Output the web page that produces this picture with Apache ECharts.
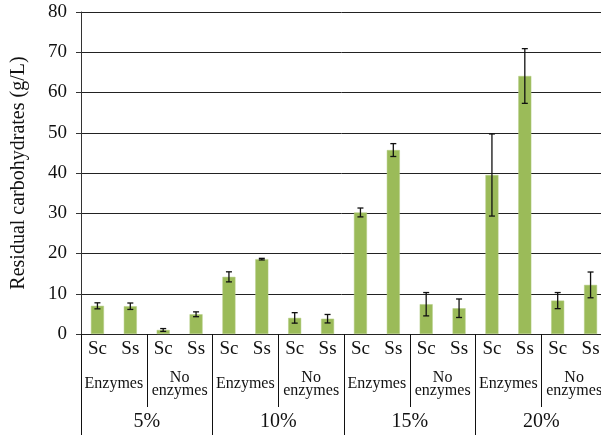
<!DOCTYPE html>
<html>
<head>
<meta charset="utf-8">
<script src="https://cdn.jsdelivr.net/npm/echarts@6/dist/echarts.min.js"></script>
<style>html,body{margin:0;padding:0;background:#fff}#c{width:601px;height:435px}</style>
</head>
<body>
<div id="c"></div>
<script>
var strainLabels = ['Sc','Ss','Sc','Ss','Sc','Ss','Sc','Ss','Sc','Ss','Sc','Ss','Sc','Ss','Sc','Ss'];
var treatmentLabels = ['Enzymes','No\nenzymes','Enzymes','No\nenzymes','Enzymes','No\nenzymes','Enzymes','No\nenzymes'];
var concentrationLabels = ['5%','10%','15%','20%'];
var meanValues = [7.0, 6.9, 1.0, 4.9, 14.2, 18.6, 4.0, 3.8, 30.2, 45.7, 7.4, 6.4, 39.5, 64.1, 8.3, 12.2];
var errorValues = [0.75, 0.8, 0.35, 0.6, 1.25, 0.2, 1.3, 1.05, 1.1, 1.6, 2.9, 2.3, 10.2, 6.8, 2.0, 3.2];
var yTicks = [0, 10, 20, 30, 40, 50, 60, 70, 80];

var serif = '"Liberation Serif","DejaVu Serif",serif';
var errorData = meanValues.map(function (m, i) { return [i, m - errorValues[i], m + errorValues[i]]; });

var chart = echarts.init(document.getElementById('c'), null, {renderer: 'canvas'});
chart.setOption({
  animation: false,
  backgroundColor: '#fff',
  grid: {left: 81, top: 12, bottom: 101, right: -6, containLabel: false, outerBoundsMode: 'none'},
  xAxis: [
    {
      type: 'category', data: strainLabels, position: 'bottom',
      axisLine: {show: true, lineStyle: {color: '#222', width: 1}},
      axisTick: {show: false},
      axisLabel: {interval: 0, margin: 15, verticalAlign: 'middle', fontFamily: serif, fontSize: 19, color: '#111'},
      splitLine: {show: false}
    },
    {
      type: 'category', data: treatmentLabels, position: 'bottom', gridIndex: 0,
      axisLine: {show: false},
      axisTick: {show: true, length: 73, interval: 0, lineStyle: {color: '#111', width: 1}},
      axisLabel: {interval: 0, margin: 50, verticalAlign: 'middle', fontFamily: serif, fontSize: 16, lineHeight: 13, color: '#111'},
      splitLine: {show: false}
    },
    {
      type: 'category', data: concentrationLabels, position: 'bottom', gridIndex: 0,
      axisLine: {show: false},
      axisTick: {show: true, length: 101, interval: 0, lineStyle: {color: '#111', width: 1}},
      axisLabel: {interval: 0, margin: 88, verticalAlign: 'middle', fontFamily: serif, fontSize: 20, color: '#111'},
      splitLine: {show: false}
    }
  ],
  yAxis: {
    type: 'value', min: yTicks[0], max: yTicks[yTicks.length - 1], interval: 10,
    name: 'Residual carbohydrates (g/L)', nameLocation: 'middle', nameGap: 52,
    nameTextStyle: {fontFamily: serif, fontSize: 20, color: '#111'},
    axisLine: {show: true, lineStyle: {color: '#333', width: 1}},
    axisTick: {show: true, length: 5, lineStyle: {color: '#333'}},
    axisLabel: {margin: 14, fontFamily: serif, fontSize: 19, color: '#111'},
    splitLine: {show: true, lineStyle: {color: '#222', width: 1}}
  },
  series: [
    {
      type: 'bar', xAxisIndex: 0, data: meanValues, barWidth: 13,
      itemStyle: {color: '#9BBB59', borderColor: '#B5CD85', borderWidth: 0.5}
    },
    {
      type: 'custom', xAxisIndex: 0, data: errorData, z: 10,
      renderItem: function (params, api) {
        var x = api.value(0);
        var lo = api.coord([x, api.value(1)]);
        var hi = api.coord([x, api.value(2)]);
        var w = 3;
        var style = {stroke: '#111', lineWidth: 1.3};
        return {
          type: 'group',
          children: [
            {type: 'line', shape: {x1: lo[0], y1: lo[1], x2: hi[0], y2: hi[1]}, style: style},
            {type: 'line', shape: {x1: lo[0] - w, y1: lo[1], x2: lo[0] + w, y2: lo[1]}, style: style},
            {type: 'line', shape: {x1: hi[0] - w, y1: hi[1], x2: hi[0] + w, y2: hi[1]}, style: style}
          ]
        };
      }
    }
  ]
});
</script>
</body>
</html>
